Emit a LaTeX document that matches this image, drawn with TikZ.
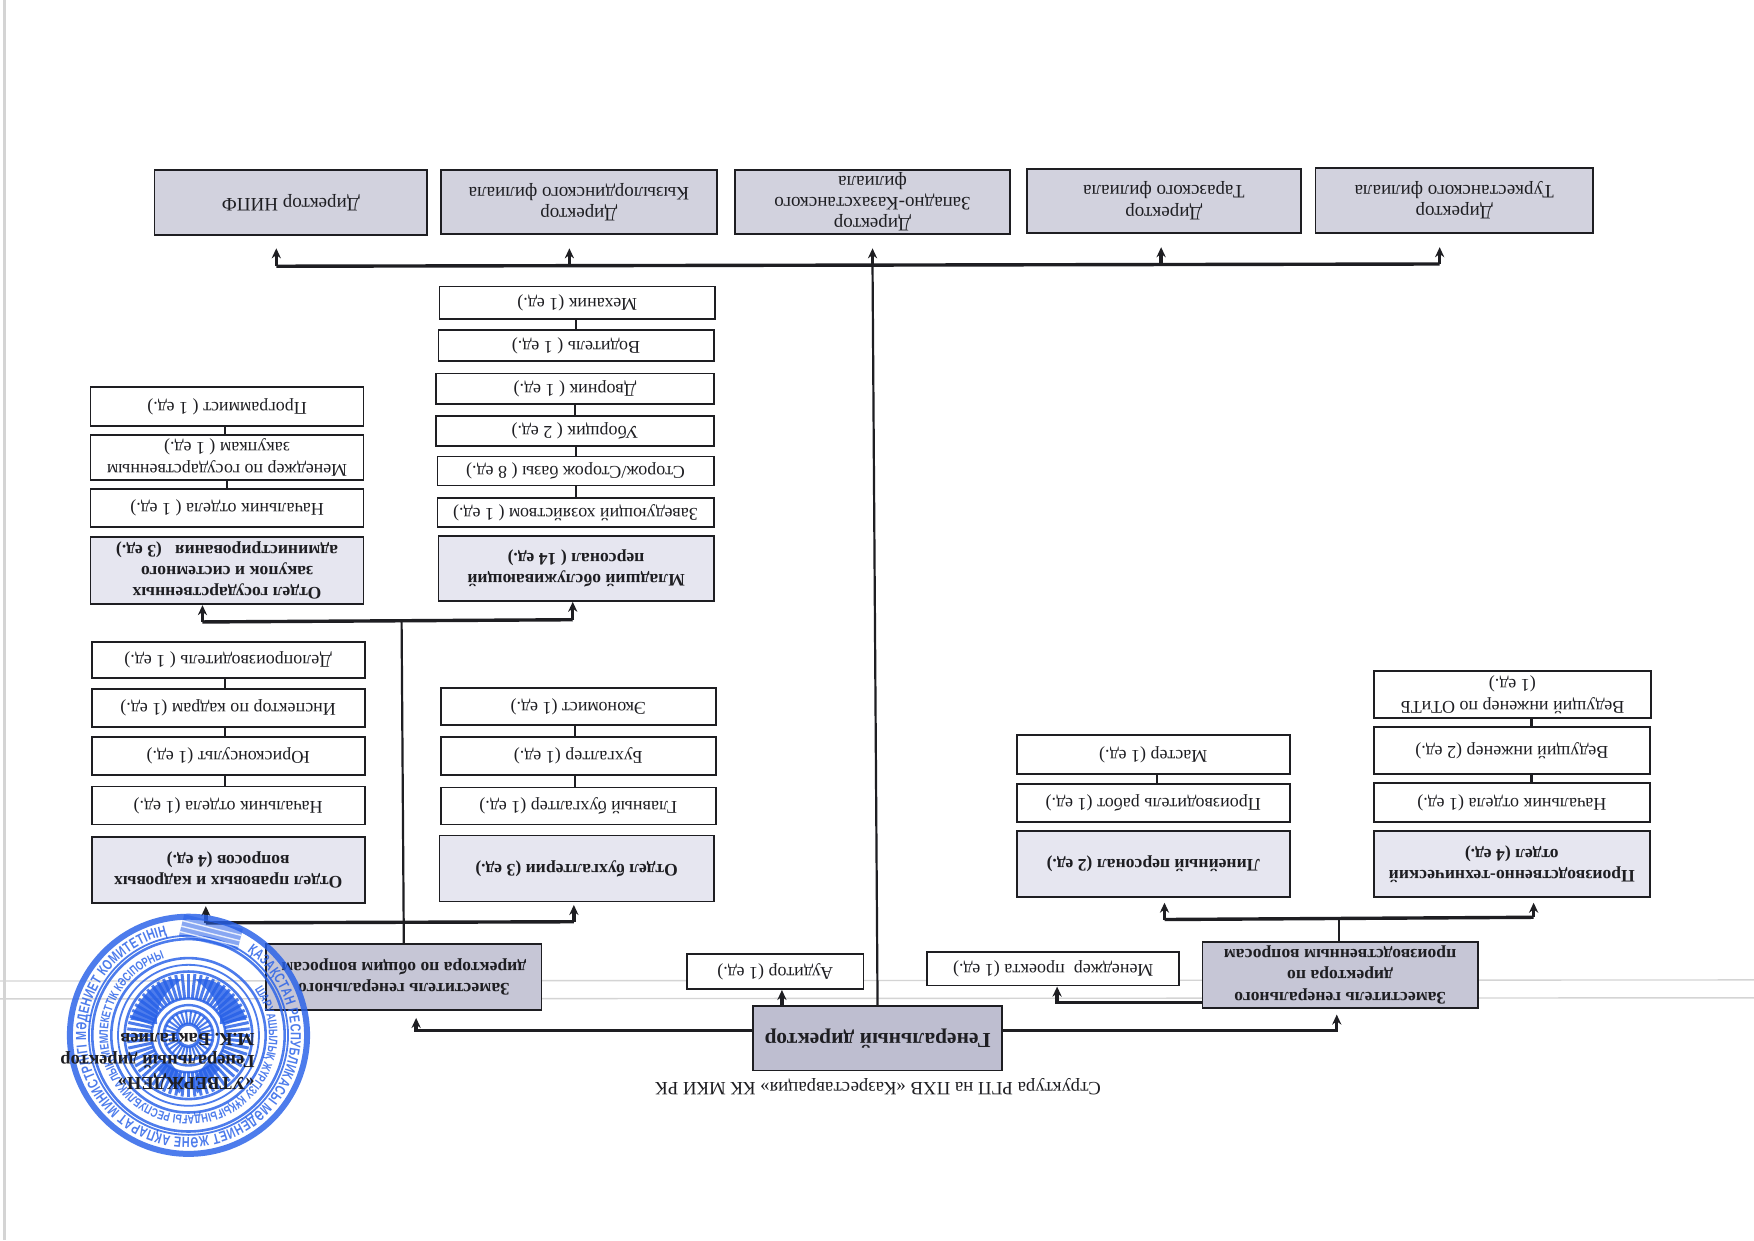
\documentclass[tikz,border=0pt]{standalone}
\usepackage{fontspec}
\setmainfont{Liberation Serif}
\newfontfamily\stampfont[FakeStretch=0.74]{Liberation Sans}
\usetikzlibrary{arrows.meta,decorations.text}
\definecolor{ink}{HTML}{1E1E22}
\definecolor{dirfill}{HTML}{D2D2DE}
\definecolor{depfill}{HTML}{C6C6D6}
\definecolor{genfill}{HTML}{BEBED0}
\definecolor{deptfill}{HTML}{E6E6F0}
\definecolor{scanline}{HTML}{D4D4D4}
\definecolor{stampblue}{HTML}{2760E8}
\newcommand{\bodytext}{\fontsize{9}{10.6}\selectfont}
\newcommand{\boldtext}{\fontsize{8.8}{10.6}\selectfont\bfseries}
\tikzset{
  cell/.style={draw=ink,line width=.85pt,rotate=180,inner sep=1pt,outer sep=0pt,align=center,fill=white,font=\bodytext,text=ink},
  plainbox/.style={cell},
  dirbox/.style={cell,fill=dirfill,font=\fontsize{9.5}{10.6}\selectfont},
  deptbox/.style={cell,fill=deptfill,font=\boldtext},
  depbox/.style={cell,fill=depfill,font=\boldtext},
  genbox/.style={cell,fill=genfill,font=\fontsize{10.7}{12}\selectfont\bfseries},
  link/.style={draw=ink,line width=1.1pt},
  trunk/.style={draw=ink,line width=1.1pt},
  bus/.style={draw=ink,line width=1.7pt,line cap=square},
  arr/.style={draw=ink,line width=1.7pt,-{Stealth[length=5pt,width=4.6pt]},shorten >=#1*0.5593pt},
  stampline/.style={draw=stampblue,line width=.9pt},
  ringtext/.style={decorate,decoration={text along path,text align={fit to path},text color=stampblue,text={#1}}},
}
% style, name, x1, y1, x2, y2, text
\newcommand{\bx}[7]{\node[#1,minimum width={(#5-#3)*0.5593pt},minimum height={(#6-#4)*0.5593pt}] (#2) at ({(#3+#5)/2},{(#4+#6)/2}) {#7};}
% lower box, upper box, x of the link
\newcommand{\lnk}[3]{\draw[link] (#1.south -| #3,0) -- (#2.north -| #3,0);}
\begin{document}
\begin{tikzpicture}[x=0.5593pt,y=-0.5593pt]
\useasboundingbox (0,0) rectangle (1568,1108.6);
\fill[white] (0,0) rectangle (1568,1108.6);
% marks of the scan
\draw[scanline,line width=.7pt] (0,877) -- (1568,876);
\draw[scanline,line width=.7pt] (0,893) -- (1568,892);
\draw[scanline,line width=1.2pt] (4,0) -- (4,1108.6);

% branch directors
\bx{dirbox}{dA}{138}{152}{382}{210}{Директор НИПФ}
\bx{dirbox}{dB}{394}{152}{641}{209}{Директор\\Кызылординского филиала}
\bx{dirbox}{dC}{657}{152}{903}{209}{Директор\\Западно-Казахстанского\\филиала}
\bx{dirbox}{dD}{918}{151}{1163}{208}{Директор\\Таразского филиала}
\bx{dirbox}{dE}{1176}{150}{1424}{208}{Директор\\Туркестанского филиала}

% general director
\bx{genbox}{gen}{673}{899}{896}{957}{Генеральный директор}
\bx{plainbox}{aud}{614}{853}{772}{884}{Аудитор (1 ед.)}
\bx{depbox}{depB}{238}{844}{484}{903}{Заместитель генерального\\директора по общим вопросам}
\bx{depbox}{depA}{1075}{842}{1321}{901}{Заместитель генерального\\директора по\\производственным вопросам}
\bx{plainbox}{mgr}{829}{851}{1054}{881}{Менеджер~ проекта (1 ед.)}

% production side
\bx{deptbox}{lin}{909}{743}{1153}{802}{Линейный персонал (2 ед.)}
\bx{plainbox}{linA}{909}{701}{1153}{735}{Производитель работ (1 ед.)}
\bx{plainbox}{linB}{909}{657}{1153}{692}{Мастер (1 ед.)}
\bx{deptbox}{pto}{1228}{743}{1475}{802}{Производственно-технический\\отдел (4 ед.)}
\bx{plainbox}{ptoA}{1228}{700}{1475}{735}{Начальник отдела (1 ед.)}
\bx{plainbox}{ptoB}{1228}{650}{1475}{692}{Ведущий инженер (2 ед.)}
\bx{plainbox}{ptoC}{1228}{600}{1476}{642}{Ведущий инженер по ОТиТБ\\(1 ед.)}

% legal and personnel
\bx{deptbox}{law}{82}{748}{326}{807}{Отдел правовых и кадровых\\вопросов (4 ед.)}
\bx{plainbox}{lawA}{82}{703}{326}{737}{Начальник отдела (1 ед.)}
\bx{plainbox}{lawB}{82}{659}{326}{693}{Юрисконсульт (1 ед.)}
\bx{plainbox}{lawC}{82}{616}{326}{650}{Инспектор по кадрам (1 ед.)}
\bx{plainbox}{lawD}{82}{574}{326}{606}{Делопроизводитель ( 1 ед.)}

% accounting
\bx{deptbox}{acc}{393}{747}{638}{806}{Отдел бухгалтерии (3 ед.)}
\bx{plainbox}{accA}{394}{704}{640}{737}{Главный бухгалтер (1 ед.)}
\bx{plainbox}{accB}{394}{659}{640}{693}{Бухгалтер (1 ед.)}
\bx{plainbox}{accC}{394}{615}{640}{648}{Экономист (1 ед.)}

% procurement
\bx{deptbox}{pur}{81}{480}{325}{540}{Отдел государственных\\закупок и системного\\администрирования~~ (3 ед.)}
\bx{plainbox}{purA}{81}{437}{325}{471}{Начальник отдела ( 1 ед.)}
\bx{plainbox}{purB}{81}{389}{325}{429}{Менеджер по государственным\\закупкам ( 1 ед.)}
\bx{plainbox}{purC}{81}{346}{325}{381}{Программист ( 1 ед.)}

% service staff
\bx{deptbox}{srv}{392}{479}{638}{537}{Младший обслуживающий\\персонал ( 14 ед.)}
\bx{plainbox}{srvA}{391}{445}{638}{471}{Заведующий хозяйством ( 1 ед.)}
\bx{plainbox}{srvB}{391}{408}{638}{434}{Сторож/Сторож базы ( 8 ед.)}
\bx{plainbox}{srvC}{390}{372}{638}{399}{Уборщик ( 2 ед.)}
\bx{plainbox}{srvD}{390}{334}{638}{361}{Дворник ( 1 ед.)}
\bx{plainbox}{srvE}{392}{295}{638}{323}{Водитель ( 1 ед.)}
\bx{plainbox}{srvF}{393}{256}{639}{285}{Механик (1 ед.)}

\node[rotate=180,font=\fontsize{9.4}{11}\selectfont,text=ink] (cap) at (785,971) {Структура РГП на ПХВ «Казреставрация» КК МКИ РК};

% stacked links
\lnk{linA}{linB}{1034}
\lnk{ptoA}{ptoB}{1369}
\lnk{ptoB}{ptoC}{1369}
\lnk{lawA}{lawB}{201}
\lnk{lawB}{lawC}{201}
\lnk{lawC}{lawD}{201}
\lnk{accA}{accB}{514}
\lnk{accB}{accC}{514}
\lnk{purA}{purB}{203}
\lnk{purB}{purC}{201}
\lnk{srvA}{srvB}{515}
\lnk{srvB}{srvC}{515}
\lnk{srvC}{srvD}{514}
\lnk{srvE}{srvF}{515}

% top bus
\coordinate (tA) at (247,238);
\coordinate (tB) at (509,238);
\coordinate (tC) at (780,237);
\coordinate (tD) at (1038,236);
\coordinate (tE) at (1287,236);
\draw[trunk] (gen.south) -- (tC);
\draw[bus] (tA) -- (tE);
\draw[arr=12] (tA) -- (tA |- dA.north);
\draw[arr=13] (tB) -- (tB |- dB.north);
\draw[arr=13] (tC) -- (tC |- dC.north);
\draw[arr=13] (tD) -- (tD |- dD.north);
\draw[arr=13] (tE) -- (tE |- dE.north);

% from the general director
\draw[arr=1] (gen.south -| 699,0) -- (aud.north -| 699,0);
\draw[arr=7] (gen.east |- 0,921) -| (depB.north -| 372,0);
\draw[arr=6] (gen.west |- 0,921) -| (depA.north -| 1195,0);
\draw[arr=1] (depA.east |- 0,896) -| (mgr.north -| 945,0);

% production bus
\coordinate (pA) at (1041,822);
\coordinate (pM) at (1197,821);
\coordinate (pB) at (1371,820);
\draw[trunk] (depA.south -| 1197,0) -- (pM);
\draw[bus] (pA) -- (pB);
\draw[arr=5] (pA) -- (pA |- lin.north);
\draw[arr=5] (pB) -- (pB |- pto.north);

% general affairs buses
\coordinate (aA) at (184,825);
\coordinate (aM) at (361,825);
\coordinate (aB) at (513,824);
\coordinate (bA) at (181,556);
\coordinate (bM) at (359,555);
\coordinate (bB) at (512,554);
\draw[trunk] (depB.south -| 361,0) -- (bM);
\draw[bus] (aA) -- (aB);
\draw[bus] (bA) -- (bB);
\draw[arr=3] (aA) -- (aA |- law.north);
\draw[arr=3] (aB) -- (aB |- acc.north);
\draw[arr=1] (bA) -- (bA |- pur.north);
\draw[arr=1] (bB) -- (bB |- srv.north);

% the seal
\begin{scope}[shift={(168.5,925.5)},x=0.5593pt,y=0.5593pt,opacity=.82]
  \draw[stampblue,line width=3pt] (0,0) circle (106);
  \draw[stampline] (0,0) circle (89);
  \draw[stampline,line width=1.3pt] (0,0) circle (86);
  \draw[stampline,line width=1.3pt] (0,0) circle (69);
  \draw[stampline] (0,0) circle (63);
  \draw[stampline,line width=1.3pt] (0,0) circle (57);
  \path[ringtext={|\stampfont\bfseries\fontsize{7.3}{9}\selectfont|ҚАЗАҚСТАН РЕСПУБЛИКАСЫ МӘДЕНИЕТ ЖӘНЕ АҚПАРАТ МИНИСТРЛІГІ МӘДЕНИЕТ КОМИТЕТІНІҢ}]
    (55:91.5) arc[start angle=55,end angle=-258,radius=91.5];
  \path[ringtext={|\stampfont\bfseries\fontsize{6.2}{8}\selectfont|ШАРУАШЫЛЫҚ ЖҮРГІЗУ ҚҰҚЫҒЫНДАҒЫ РЕСПУБЛИКАЛЫҚ МЕМЛЕКЕТТІК КӘСІПОРНЫ}]
    (35:72) arc[start angle=35,end angle=-250,radius=72];
  \foreach \a in {0,12,...,348}{\draw[stampblue,line width=1pt] (\a:10) -- (\a:22);}
  \draw[stampblue,line width=1.6pt] (0,0) circle (10);
  \draw[stampblue,line width=1.4pt] (0,0) circle (22);
  \draw[stampblue,line width=1.2pt] (0,0) circle (27);
  \draw[stampblue,line width=1.2pt] (0,0) circle (33);
  \foreach \a in {0,6,...,354}{\draw[stampblue,line width=1.5pt] (\a:33) -- (\a:55);}
  \fill[stampblue] (-52,14) .. controls (-38,46) and (-20,52) .. (-6,50) .. controls (-22,38) and (-30,26) .. (-28,10) -- cycle;
  \fill[stampblue] (52,14) .. controls (38,46) and (20,52) .. (6,50) .. controls (22,38) and (30,26) .. (28,10) -- cycle;
  \fill[stampblue] (-28,-30) -- (-8,-52) -- (-2,-42) -- (-18,-22) -- cycle;
  \fill[stampblue] (28,-30) -- (8,-52) -- (2,-42) -- (18,-22) -- cycle;
  \begin{scope}[shift={(20,92)},rotate=-14]
    \fill[stampblue,opacity=.55] (-27,-10) rectangle (27,10);
    \foreach \s in {-6,-1,4}{\draw[white,line width=.7pt] (-27,\s) -- (27,\s);}
  \end{scope}
\end{scope}

\node[rotate=180,anchor=west,align=left,inner sep=0pt,font=\fontsize{9.2}{10.9}\selectfont\bfseries,text=ink] (sign) at (228,949) {«УТВЕРЖДЕН»\\Генеральный директор\\М.К. Бакталиев};
\end{tikzpicture}
\end{document}
